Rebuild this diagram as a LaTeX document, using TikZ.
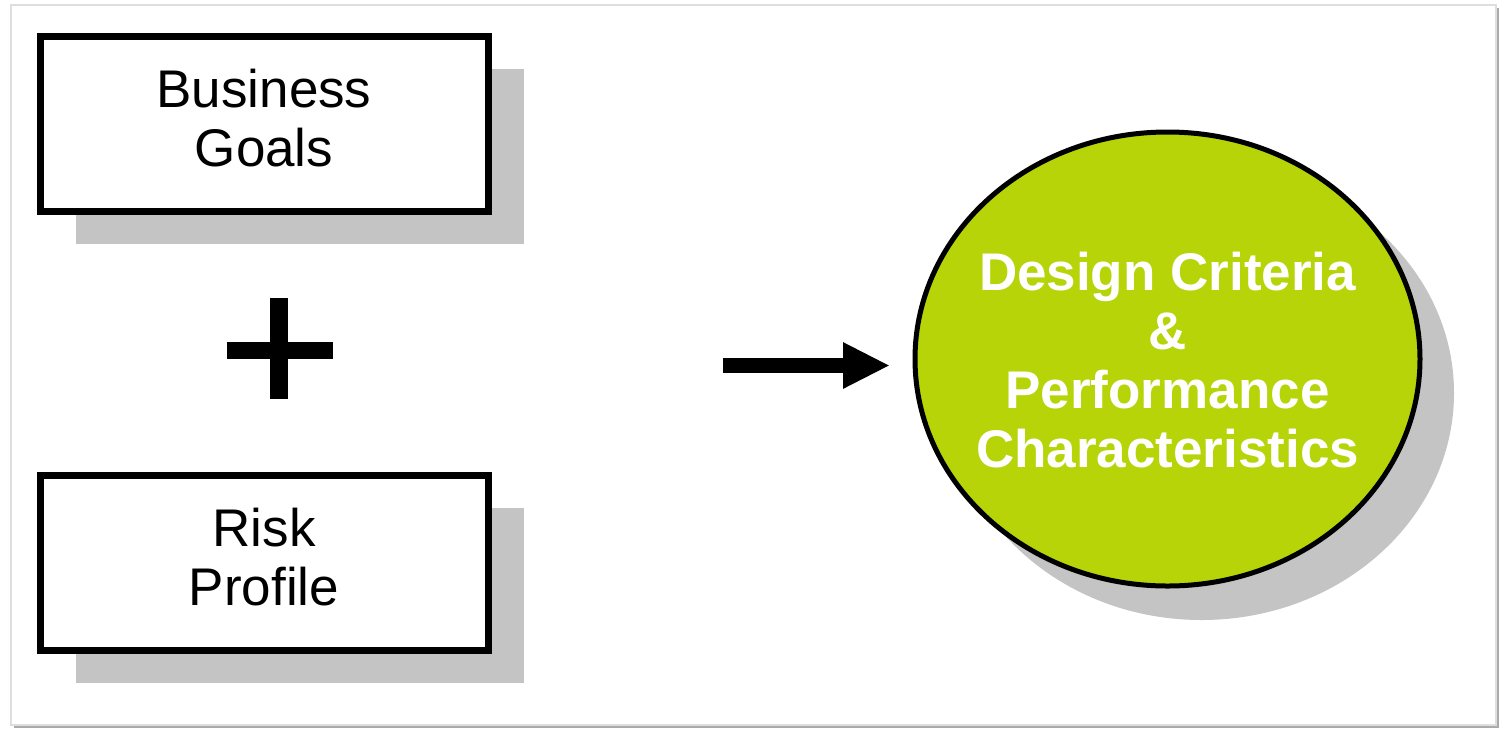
\documentclass[tikz,border=0pt]{standalone}
\usepackage{fontspec}
\setmainfont{Liberation Sans}
\usetikzlibrary{shadows,arrows.meta,shapes.geometric}
\definecolor{leaf}{RGB}{182,212,8}
\definecolor{shadegray}{RGB}{196,196,196}
\definecolor{frameline}{RGB}{222,222,222}
\definecolor{frameshade}{RGB}{170,170,170}
\begin{document}
\begin{tikzpicture}[x=1pt,y=-1pt,
  boxnode/.style={draw=black, line width=7pt, fill=white,
    minimum width=448pt, minimum height=175pt, inner sep=0pt,
    general shadow={fill=shadegray, draw=none, shadow xshift=36pt, shadow yshift=-32pt}},
  boxtext/.style={align=center, inner sep=0pt, font=\fontsize{53}{59}\selectfont},
  ellnode/.style={ellipse, draw=black, line width=5pt, fill=leaf,
    minimum width=505pt, minimum height=454pt, inner sep=0pt,
    general shadow={fill=shadegray, draw=none, shadow xshift=34pt, shadow yshift=-34pt}},
  elltext/.style={text=white, align=center, inner sep=0pt,
    font=\fontsize{53}{59}\selectfont\bfseries},
  bigarrow/.style={line width=15pt, -{Triangle[length=47pt,width=43pt]}},
  plusbar/.style={fill=black}
]
\useasboundingbox (0,0) rectangle (1501,729);
\fill[white] (0,0) rectangle (1501,729);
% outer frame
\draw[frameline, line width=1.5pt] (11,5) rectangle (1496,725);
\draw[frameshade, line width=2.5pt] (1498,8) -- (1498,727) -- (14,727);

% boxes
\node[boxnode] (bg) at (264,124) {};
\node[boxtext] (bgt) at ([yshift=6pt]bg.center) {Business\\Goals};
\node[boxnode] (rp) at (264,563) {};
\node[boxtext] (rpt) at ([yshift=6pt]rp.center) {Risk\\Profile};

% plus sign
\fill[plusbar] (227,342) rectangle (333,359);
\fill[plusbar] (270,298) rectangle (288,399);

% arrow
\coordinate (a0) at (723,365.5);
\coordinate (a1) at (890,365.5);
\draw[bigarrow] (a0) -- (a1);

% circle
\node[ellnode] (dc) at (1167.5,359) {};
\node[elltext] (dct) at ([yshift=-1pt]dc.center) {Design Criteria\\\&\\Performance\\Characteristics};
\end{tikzpicture}
\end{document}
